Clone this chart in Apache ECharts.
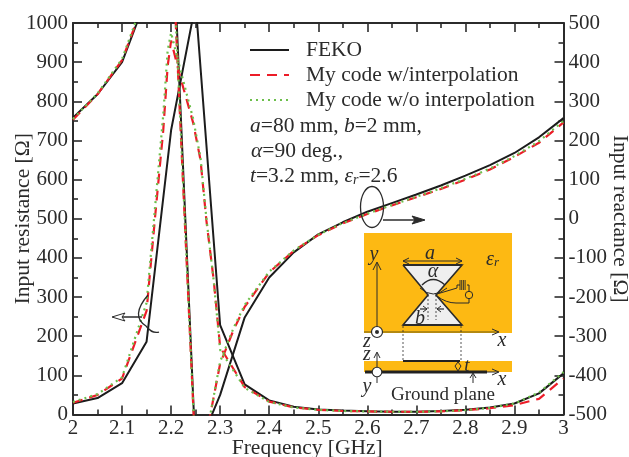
<!DOCTYPE html>
<html><head><meta charset="utf-8">
<script src="https://cdn.jsdelivr.net/npm/echarts@6/dist/echarts.min.js"></script>
<style>html,body{margin:0;padding:0;background:#fff}#c{width:629px;height:457px}</style>
</head><body><div id="c"></div>
<script>
const fekoFreq=[2,2.05,2.1,2.15,2.2,2.25,2.3,2.35,2.4,2.45,2.5,2.55,2.6,2.65,2.7,2.75,2.8,2.85,2.9,2.95,3];
const fekoR=[28,42,80,186,726,1050,228,77,36,20,13,10,8,7,7,9,12,18,28,54,105];
const fekoX=[258,318,400,565,827,-600,-450,-252,-150,-86,-40,-9,18,40,62,85,110,137,168,208,257];

const codeFreqR=[2,2.05,2.1,2.15,2.167,2.184,2.193,2.2,2.218,2.245,2.26,2.272,2.287,2.3,2.35,2.4,2.45,2.5,2.55,2.6,2.65,2.7,2.75,2.8,2.85,2.9,2.95,3];
const interpR=[30,50,92,265,500,726,890,955,865,745,650,495,342,172,70,33,18,12,9,8,7,7,8,11,16,24,40,92];
const nointerpR=[32,52,95,285,525,765,930,975,885,755,655,500,340,165,68,32,18,12,9,8,7,7,8,11,17,28,56,108];

const codeFreqX=[2,2.05,2.1,2.15,2.2,2.25,2.28,2.3,2.327,2.35,2.4,2.45,2.5,2.55,2.6,2.65,2.7,2.75,2.8,2.85,2.9,2.95,3];
const interpX=[253,318,405,571,760,-612,-500,-370,-285,-225,-137,-82,-42,-12,12,34,55,76,100,126,158,194,246];
const nointerpX=[255,320,408,580,770,-610,-500,-365,-280,-220,-135,-81,-41,-11,13,35,56,78,102,128,160,198,250];

const ink='#2b2b2b', font='"Liberation Serif","Times New Roman",serif';
const zip=(a,b)=>a.map((v,i)=>[v,b[i]]);
const G=[];
function line(x1,y1,x2,y2,w,dash,col){G.push({type:'line',z:20,silent:true,shape:{x1,y1,x2,y2},style:{stroke:col||ink,lineWidth:w||1,lineDash:dash||null}});}
function path(pts,w,fill,col){G.push({type:'polyline',z:20,silent:true,shape:{points:pts},style:{stroke:col||ink,lineWidth:w||1,fill:fill||null}});}
function curve(x1,y1,cx,cy,x2,y2,w){G.push({type:'bezierCurve',z:20,silent:true,shape:{x1,y1,x2,y2,cpx1:cx,cpy1:cy},style:{stroke:ink,lineWidth:w||1,fill:null}});}
function txt(text,x,y,size,extra){G.push({type:'text',z:21,silent:true,x,y,style:Object.assign({text,fontFamily:font,fontSize:size,fill:ink,verticalAlign:'middle',align:'left'},extra||{})});}
function richTxt(text,x,y){G.push({type:'text',z:21,silent:true,x,y,style:{text,fontFamily:font,fontSize:21.5,fill:ink,verticalAlign:'middle',rich:{
  i:{fontFamily:font,fontSize:21.5,fontStyle:'italic',fill:ink},
  n:{fontFamily:font,fontSize:21.5,fill:ink},
  s:{fontFamily:font,fontSize:14,fontStyle:'italic',fill:ink,padding:[8,0,0,0]}}}});}

// parameter text
richTxt('{i|a}{n|=80 mm, }{i|b}{n|=2 mm,}',250,126);
richTxt('{i|α}{n|=90 deg.,}',251,151);
richTxt('{i|t}{n|=3.2 mm, }{i|ε}{s|r}{n|=2.6}',250,176);

// rotation marks and arrows
G.push({type:'ellipse',z:20,silent:true,shape:{cx:372,cy:207,rx:11.5,ry:20.5},style:{stroke:ink,lineWidth:1.3,fill:null}});
line(383,220,418,220,1.5);
path([[425,220],[412,216],[415,220],[412,224],[425,220]],1,ink);
curve(148,295,130,316,146,326,1.3);
curve(146,326,152,334,159,332,1.3);
line(142,317,120,317,1.5);
path([[112,317],[125,313],[122,317],[125,321],[112,317]],1,'#fff');

// inset
G.push({type:'rect',z:15,silent:true,shape:{x:364,y:233,width:148,height:100},style:{fill:'#FDB913'}});
G.push({type:'rect',z:15,silent:true,shape:{x:364,y:361,width:148,height:11},style:{fill:'#FDB913'}});
path([[403,265],[462,265],[436,295],[462,325],[403,325],[428,295],[403,265]],1.6,'#efefef');
line(403,261,462,261,1);path([[409,258],[403,261],[409,264]],1);path([[456,258],[462,261],[456,264]],1);
line(403,265,462,265,2);
line(403,325,462,325,2);
curve(422,285,433,274,445,285,1.4);
curve(420,288,433,300,447,288,1);
line(428,295,428,320,.8,[2,2]);line(436,295,436,320,.8,[2,2]);
line(420,309,427,309,1.2);path([[423,306],[427,309],[423,312]],1);
line(444,309,437,309,1.2);path([[441,306],[437,309],[441,312]],1);
path([[437,294],[457,288],[457,285],[460,285]],1);
for(let i=0;i<4;i++)line(460+i*1.7,280,460+i*1.7,290,.9);
path([[467,285],[469,285],[469,291]],1);
G.push({type:'circle',z:20,silent:true,shape:{cx:469,cy:295,r:3.7},style:{stroke:ink,lineWidth:1,fill:'#FDB913'}});
path([[469,299],[469,303],[456,303]],1);
curve(456,303,446,303,437,296,1);
// top-view axes
line(377,332,377,263,1);path([[373,270],[377,262],[381,270]],1);
line(364,332,498,332,1.2,null,'#6b5a10');path([[492,329],[499,332],[492,335]],1);
G.push({type:'circle',z:22,silent:true,shape:{cx:377,cy:332,r:5.5},style:{stroke:ink,lineWidth:1.2,fill:'#fff'}});
G.push({type:'circle',z:23,silent:true,shape:{cx:377,cy:332,r:2},style:{fill:ink}});
// side view
line(403,326,403,361,.8,[2,2]);line(461,326,461,361,.8,[2,2]);
line(403,361,460,361,2.2,null,'#222');
line(365,372,487,372,3,null,'#222');
line(487,372,498,372,1);path([[492,369],[499,372],[492,375]],1);
line(377,372,377,353,1);path([[374,358],[377,352],[380,358]],1);
G.push({type:'circle',z:22,silent:true,shape:{cx:377,cy:372,r:4.8},style:{stroke:ink,lineWidth:1.1,fill:'#fff'}});
line(373.6,368.6,380.4,375.4,1);line(380.4,368.6,373.6,375.4,1);
line(377,377,377,383,1);
path([[458,362],[461,366],[458,371],[455,366],[458,362]],1);
line(473,383,473,374,1);path([[470,378],[473,373],[476,378]],1);
// inset labels
const it={fontStyle:'italic',align:'center'};
txt('a',430,254,20,it);txt('α',433,272,20,it);txt('b',420,319,20,it);
txt('y',374,255,20,it);txt('x',502,341,20,it);txt('z',367,342,20,it);txt('z',367,355,20,it);
txt('y',367,387,20,it);txt('x',502,380,20,it);txt('t',467,366,19,it);
G.push({type:'text',z:21,silent:true,x:486,y:260,style:{text:'{i|ε}{s|r}',verticalAlign:'middle',rich:{i:{fontFamily:font,fontSize:20,fontStyle:'italic',fill:ink},s:{fontFamily:font,fontSize:13,fontStyle:'italic',fill:ink,padding:[6,0,0,0]}}}});
txt('Ground plane',443,395,19,{align:'center'});

const lineS=(name,data,axis,style)=>({name,type:'line',yAxisIndex:axis,data,symbol:'none',smooth:false,clip:true,lineStyle:style,itemStyle:{color:style.color},emphasis:{disabled:true},z:style.z});
const feko={color:'#1c1c1c',width:2,type:'solid',z:3}, red={color:'#ec1c28',width:2.2,type:[10,7],z:4}, green={color:'#6cbf4b',width:2.2,type:[2,4],z:5};
const xBase={type:'value',min:2,max:3,interval:0.1,splitLine:{show:false},
  axisLine:{onZero:false,lineStyle:{color:ink,width:2}},
  axisTick:{inside:true,length:9,lineStyle:{color:ink,width:1.6}},
  minorTick:{show:true,splitNumber:2,length:5,lineStyle:{color:ink,width:1.6}}};
const yBase={type:'value',splitLine:{show:false},
  axisLine:{show:true,onZero:false,lineStyle:{color:ink,width:2}},
  axisTick:{show:true,inside:true,length:9,lineStyle:{color:ink,width:1.6}},
  minorTick:{show:true,splitNumber:2,length:5,lineStyle:{color:ink,width:1.6}},
  axisLabel:{color:ink,fontFamily:font,fontSize:21,margin:5,hideOverlap:false,formatter:v=>String(v)},
  nameLocation:'middle',nameMoveOverlap:false,nameTextStyle:{color:ink,fontFamily:font,fontSize:21.5}};
const chart=echarts.init(document.getElementById('c'),null,{renderer:'canvas'});
chart.setOption({
  animation:false,backgroundColor:'#fff',
  grid:{left:73,top:23,width:490.5,height:391.5,containLabel:false,outerBoundsMode:'none'},
  legend:{orient:'vertical',left:249,top:39,itemWidth:39,itemHeight:12,itemGap:3,padding:0,itemStyle:{opacity:0},
    data:['FEKO','My code w/interpolation','My code w/o interpolation'],
    textStyle:{color:ink,fontFamily:font,fontSize:21.5,padding:[0,0,0,12]},selectedMode:false},
  xAxis:[
    Object.assign({},xBase,{position:'bottom',name:'Frequency [GHz]',nameLocation:'middle',nameGap:23,nameMoveOverlap:false,
      nameTextStyle:{color:ink,fontFamily:font,fontSize:21.5,padding:[0,22,0,0]},
      axisLabel:{color:ink,fontFamily:font,fontSize:21,margin:3,showMinLabel:true,showMaxLabel:true,hideOverlap:false,formatter:v=>String(+(+v).toFixed(1))}}),
    Object.assign({},xBase,{position:'top',axisLabel:{show:false}})
  ],
  yAxis:[
    Object.assign({},yBase,{position:'left',min:0,max:1000,interval:100,name:'Input resistance [Ω]',nameGap:39}),
    Object.assign({},yBase,{position:'right',min:-500,max:500,interval:100,name:'Input reactance [Ω]',nameGap:45,nameRotate:-90})
  ],
  series:[
    lineS('FEKO',zip(fekoFreq,fekoR),0,feko),
    lineS('FEKO',zip(fekoFreq,fekoX),1,feko),
    lineS('My code w/interpolation',zip(codeFreqR,interpR),0,red),
    lineS('My code w/interpolation',zip(codeFreqX,interpX),1,red),
    lineS('My code w/o interpolation',zip(codeFreqR,nointerpR),0,green),
    lineS('My code w/o interpolation',zip(codeFreqX,nointerpX),1,green)
  ],
  graphic:{elements:G}
});
</script></body></html>
